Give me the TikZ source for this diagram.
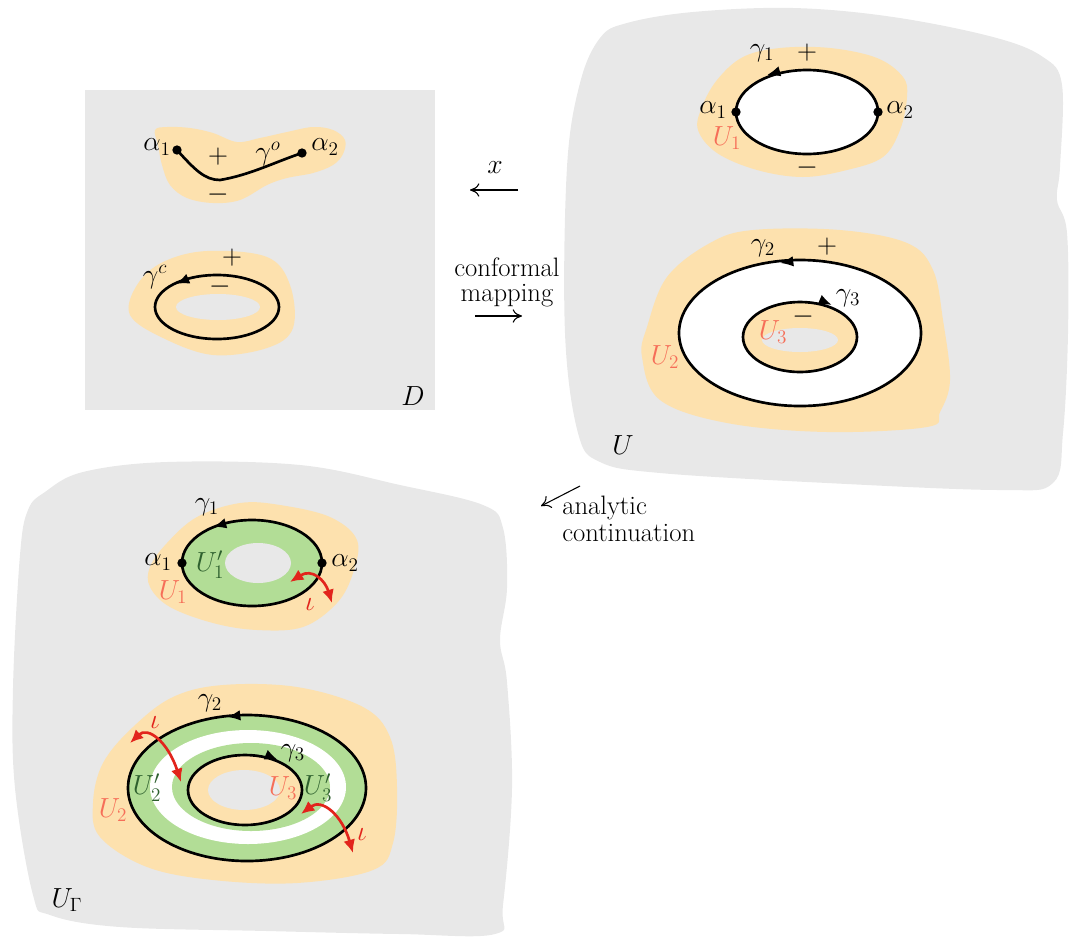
\documentclass[tikz,border=0pt]{standalone}
\usetikzlibrary{arrows.meta}
\definecolor{panelgray}{RGB}{232,232,232}
\definecolor{peach}{RGB}{253,225,174}
\definecolor{ringgreen}{RGB}{178,221,150}
\definecolor{salmon}{RGB}{246,110,88}
\definecolor{darkleaf}{RGB}{46,96,46}
\definecolor{iotared}{RGB}{226,36,28}
\tikzset{
  lbl/.style={inner sep=0pt, font=\fontsize{20}{22}\selectfont},
  ulbl/.style={lbl, text=salmon},
  primelbl/.style={lbl, text=darkleaf},
  iotalbl/.style={lbl, text=iotared},
  maptext/.style={lbl, anchor=base},
  curve/.style={draw=black, line width=2pt},
  dirtip/.style={-{Latex[length=10pt,width=8pt]}, line width=2pt},
  iotaarrow/.style={draw=iotared, line width=2pt, {Latex[length=10pt,width=9pt]}-{Latex[length=10pt,width=9pt]}},
  maparrow/.style={-{Computer Modern Rightarrow[length=7pt,width=10pt]}, line width=0.8pt},
  endpt/.style={circle, fill=black, inner sep=0pt, minimum size=7pt},
}
\begin{document}
\begin{tikzpicture}[>=latex,line join=bevel,x=0.75pt,y=-0.75pt]
\useasboundingbox (0,0) rectangle (1070,936);
%% panel D
\fill[panelgray] (85,90) rectangle (435,410);
\fill[peach] plot[smooth cycle, tension=0.6] coordinates {(155,130) (167,127) (190,128) (213,133) (237,142) (260,138) (287,132) (313,127) (333,130) (345,140) (343,154) (333,165) (313,173) (287,178) (267,185) (240,200) (213,203) (187,198) (170,185) (162,165) (158,145)};
\fill[peach] plot[smooth cycle, tension=0.6] coordinates {(207,251) (267,257) (290,285) (293,328) (267,348) (213,355) (163,338) (130,315) (137,285) (163,262)};
\fill[panelgray] (218,307) ellipse [x radius=42, y radius=13];
\node (d_a1) at (177,150) [endpt] {};
\node (d_a2) at (302,153) [endpt] {};
\draw[curve] (d_a1.center) .. controls (195,170) and (205,180) .. (220,180) .. controls (250,175) and (275,162) .. (d_a2.center);
\draw[curve] (217,307) ellipse [x radius=62, y radius=32];
\draw[dirtip] (183,281) -- (176,284);
\node (d_alpha1) at (157,147) [lbl] {$\alpha_1$};
\node (d_alpha2) at (325,147) [lbl] {$\alpha_2$};
\node (d_plus1) at (218,157) [lbl] {$+$};
\node (d_gammao) at (268,154) [lbl] {$\gamma^o$};
\node (d_minus1) at (218,195) [lbl] {$-$};
\node (d_gammac) at (155,277) [lbl] {$\gamma^c$};
\node (d_plus2) at (232,258) [lbl] {$+$};
\node (d_minus2) at (220,287) [lbl] {$-$};
\node (d_name) at (413,396) [lbl] {$D$};
%% panel U
\fill[panelgray] plot[smooth cycle, tension=0.6] coordinates {(600,38) (627,23) (693,12) (793,8) (893,17) (993,37) (1043,57) (1062,85) (1060,167) (1057,200) (1067,233) (1068,333) (1063,433) (1053,483) (1000,490) (827,483) (660,473) (600,462) (578,433) (565,333) (567,167) (580,83)};
\fill[peach] plot[smooth cycle, tension=0.6] coordinates {(780,48) (830,48) (877,58) (903,77) (907,97) (900,130) (883,157) (847,170) (803,177) (757,170) (717,153) (698,130) (702,107) (717,80) (743,57)};
\fill[white] (807,112) ellipse [x radius=71, y radius=42];
\fill[peach] plot[smooth cycle, tension=0.6] coordinates {(753,230) (840,230) (907,243) (933,270) (943,320) (950,380) (940,412) (927,427) (827,432) (727,423) (660,400) (642,357) (647,327) (667,277) (710,243)};
\fill[white] (800,333) ellipse [x radius=121, y radius=73];
\fill[peach] (800,337) ellipse [x radius=57, y radius=35];
\fill[panelgray] (800,340) ellipse [x radius=38, y radius=12];
\draw[curve] (807,112) ellipse [x radius=71, y radius=42];
\draw[curve] (800,333) ellipse [x radius=121, y radius=73];
\draw[curve] (800,337) ellipse [x radius=57, y radius=35];
\draw[dirtip] (774,73) -- (767,75);
\draw[dirtip] (788,262) -- (780,263);
\draw[dirtip] (825,302) -- (832,305);
\node (u_a1) at (736,112) [endpt] {};
\node (u_a2) at (878,112) [endpt] {};
\node (u_gamma1) at (762,53) [lbl] {$\gamma_1$};
\node (u_plus1) at (807,53) [lbl] {$+$};
\node (u_alpha1) at (713,110) [lbl] {$\alpha_1$};
\node (u_alpha2) at (900,110) [lbl] {$\alpha_2$};
\node (u_U1) at (727,138) [ulbl] {$U_1$};
\node (u_minus1) at (807,168) [lbl] {$-$};
\node (u_gamma2) at (763,248) [lbl] {$\gamma_2$};
\node (u_plus2) at (827,247) [lbl] {$+$};
\node (u_gamma3) at (848,298) [lbl] {$\gamma_3$};
\node (u_minus2) at (803,317) [lbl] {$-$};
\node (u_U3) at (773,332) [ulbl] {$U_3$};
\node (u_U2) at (665,357) [ulbl] {$U_2$};
\node (u_name) at (623,445) [lbl] {$U$};
%% panel U_Gamma
\fill[panelgray] plot[smooth cycle, tension=0.6] coordinates {(45,492) (83,472) (167,462) (300,465) (400,485) (483,505) (503,528) (507,588) (500,640) (507,682) (512,788) (503,905) (495,934) (400,934) (267,931) (120,927) (50,915) (33,895) (15,788) (13,688) (20,555) (28,510)};
\fill[peach] plot[smooth cycle, tension=0.6] coordinates {(240,503) (280,505) (330,517) (357,540) (353,573) (337,603) (303,627) (257,630) (213,623) (170,607) (150,587) (150,567) (167,543) (197,517)};
\fill[ringgreen] (252,563) ellipse [x radius=70, y radius=43];
\fill[panelgray] (258,563) ellipse [x radius=33, y radius=20];
\fill[peach] plot[smooth cycle, tension=0.6] coordinates {(223,685) (297,687) (363,707) (390,737) (397,787) (393,843) (373,870) (297,883) (213,880) (147,867) (100,837) (93,803) (103,763) (133,727) (173,697)};
\fill[ringgreen] (247,788) ellipse [x radius=119, y radius=73];
\fill[white] (248,787) ellipse [x radius=98, y radius=57];
\fill[ringgreen] (251,787) ellipse [x radius=79, y radius=44];
\fill[peach] (245,790) ellipse [x radius=57, y radius=35];
\fill[panelgray] (244,790) ellipse [x radius=36, y radius=20];
\draw[curve] (252,563) ellipse [x radius=70, y radius=43];
\draw[curve] (247,788) ellipse [x radius=119, y radius=73];
\draw[curve] (245,790) ellipse [x radius=57, y radius=35];
\draw[dirtip] (220,525) -- (213,527);
\draw[dirtip] (235,716) -- (227,717);
\draw[dirtip] (271,757) -- (278,760);
\node (g_a1) at (182,563) [endpt] {};
\node (g_a2) at (322,563) [endpt] {};
\draw[iotaarrow] (290,582) .. controls (312,568) and (325,580) .. (332,603);
\draw[iotaarrow] (130,743) .. controls (148,726) and (168,742) .. (181,782);
\draw[iotaarrow] (301,814) .. controls (322,798) and (342,815) .. (353,853);
\node (g_gamma1) at (207,507) [lbl] {$\gamma_1$};
\node (g_alpha1) at (158,562) [lbl] {$\alpha_1$};
\node (g_alpha2) at (345,563) [lbl] {$\alpha_2$};
\node (g_U1p) at (210,565) [primelbl] {$U_1'$};
\node (g_U1) at (173,592) [ulbl] {$U_1$};
\node (g_iota1) at (310,605) [iotalbl] {$\iota$};
\node (g_gamma2) at (210,703) [lbl] {$\gamma_2$};
\node (g_gamma3) at (293,753) [lbl] {$\gamma_3$};
\node (g_U2p) at (147,788) [primelbl] {$U_2'$};
\node (g_U3) at (283,788) [ulbl] {$U_3$};
\node (g_U3p) at (318,788) [primelbl] {$U_3'$};
\node (g_U2) at (113,810) [ulbl] {$U_2$};
\node (g_iota2) at (155,723) [iotalbl] {$\iota$};
\node (g_iota3) at (362,835) [iotalbl] {$\iota$};
\node (g_name) at (67,900) [lbl] {$U_\Gamma$};
%% maps between panels
\node (map_x) at (495,168) [lbl] {$x$};
\coordinate (x_from) at (518,190);
\coordinate (x_to) at (470,190);
\draw[maparrow] (x_from) -- (x_to);
\node (map_conf1) at (507,276) [maptext] {conformal};
\node (map_conf2) at (507,301) [maptext] {mapping};
\coordinate (conf_from) at (475,316);
\coordinate (conf_to) at (522,316);
\draw[maparrow] (conf_from) -- (conf_to);
\node (map_cont1) at (562,514) [maptext, anchor=base west] {analytic};
\node (map_cont2) at (562,541) [maptext, anchor=base west] {continuation};
\coordinate (cont_from) at (580,486);
\coordinate (cont_to) at (541,506);
\draw[maparrow] (cont_from) -- (cont_to);
%
\end{tikzpicture}
\end{document}
